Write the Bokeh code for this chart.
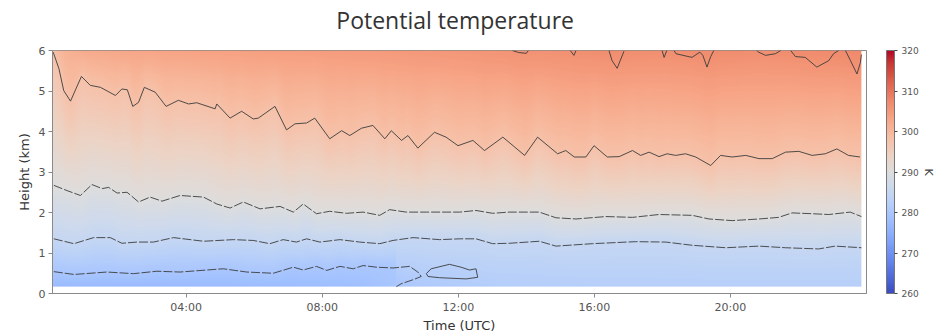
import numpy as np
from bokeh.plotting import figure
from bokeh.layouts import column
from bokeh.models import Range1d, LinearColorMapper, ColorBar, FixedTicker, Title
from bokeh.core.properties import value
from bokeh.embed import file_html
from bokeh.resources import INLINE

# ---------------- data ----------------
title_text = "Potential temperature"
# axis ticks
time_ticks = [4, 8, 12, 16, 20]
time_tick_labels = ["04:00", "08:00", "12:00", "16:00", "20:00"]
height_ticks = [0, 1, 2, 3, 4, 5, 6]
cbar_ticks = [260, 270, 280, 290, 300, 310, 320]

# extent of the data field (hours UTC, km)
t_start, t_end = 0.07, 23.85
z_bottom, z_top = 0.17, 6.0

# contour levels (K)
lev_e, lev_d, lev_c, lev_a = 280.0, 285.0, 290.0, 298.0

# contour A (highest continuous isentrope)
a_t = [0.09, 0.26, 0.40, 0.60, 0.92, 1.18, 1.48, 1.92, 2.11, 2.27, 2.43, 2.60, 2.77, 3.09, 3.41,
       3.77, 4.07, 4.31, 4.85, 4.90, 5.29, 5.63, 5.97, 6.12, 6.61, 6.95, 7.20, 7.54, 7.78, 8.22,
       8.57, 8.81, 9.15, 9.49, 9.84, 10.03, 10.33, 10.52, 10.81, 11.30, 11.64, 11.99, 12.43, 12.77,
       13.31, 13.95, 14.33, 14.92, 15.16, 15.41, 15.75, 15.99, 16.38, 16.73, 17.12, 17.36, 17.61,
       17.90, 18.14, 18.39, 18.68, 18.98, 19.42, 19.71, 20.05, 20.45, 20.84, 21.23, 21.62, 22.01,
       22.40, 22.79, 23.13, 23.47, 23.81]
a_z = [5.96, 5.55, 5.01, 4.75, 5.36, 5.14, 5.09, 4.89, 5.05, 5.03, 4.62, 4.72, 5.09, 4.97, 4.62,
       4.77, 4.68, 4.71, 4.56, 4.68, 4.33, 4.50, 4.31, 4.33, 4.62, 4.04, 4.19, 4.21, 4.33, 3.82,
       4.02, 3.90, 4.08, 4.15, 3.82, 4.02, 3.78, 3.90, 3.59, 3.98, 3.86, 3.65, 3.78, 3.53,
       3.86, 3.41, 3.86, 3.45, 3.53, 3.37, 3.37, 3.65, 3.37, 3.38, 3.53, 3.41, 3.49,
       3.38, 3.45, 3.41, 3.45, 3.37, 3.16, 3.41, 3.37, 3.41, 3.33, 3.33, 3.49, 3.51,
       3.41, 3.45, 3.57, 3.41, 3.37]

# contour B pieces touching the top of the domain
b_t = [[13.59, 13.77, 14.00, 14.06],
       [15.29, 15.40, 15.46],
       [16.43, 16.52, 16.67, 16.76, 16.87],
       [17.99, 18.05, 18.13],
       [18.34, 18.40, 18.87, 19.10, 19.19, 19.31, 19.42, 19.51],
       [20.77, 20.83, 21.03, 21.32, 21.48],
       [21.77, 21.91, 22.20, 22.54, 22.89, 23.03, 23.18],
       [23.38, 23.53, 23.72, 23.82, 23.85]]
b_z = [[6.00, 5.95, 5.93, 6.00],
       [6.00, 5.88, 6.00],
       [6.00, 5.75, 5.56, 5.75, 5.98],
       [6.00, 5.83, 6.00],
       [6.00, 5.92, 5.83, 5.96, 5.88, 5.59, 5.85, 6.00],
       [6.00, 5.96, 5.88, 5.92, 6.00],
       [6.00, 5.85, 5.83, 5.59, 5.75, 5.92, 6.00],
       [6.00, 5.75, 5.42, 5.70, 5.90]]

# contour C (~2 km)
c_t = [0.11, 0.50, 0.89, 1.23, 1.53, 1.72, 1.97, 2.26, 2.60, 2.94, 3.29, 3.82, 4.51, 4.90, 5.29,
       5.68, 6.17, 6.76, 7.15, 7.44, 7.83, 8.22, 8.71, 9.20, 9.69, 9.98, 10.47, 11.06, 11.64,
       12.04, 12.52, 13.01, 13.50, 14.38, 14.87, 15.46, 16.34, 17.12, 17.90, 18.88, 19.37, 20.05,
       20.84, 21.42, 21.81, 22.40, 22.89, 23.52, 23.85]
c_z = [2.67, 2.54, 2.42, 2.69, 2.59, 2.62, 2.48, 2.50, 2.26, 2.38, 2.28, 2.42, 2.38, 2.21, 2.11,
       2.26, 2.09, 2.15, 2.01, 2.21, 1.97, 2.03, 1.98, 2.01, 1.93, 2.07, 2.01, 2.01, 2.01,
       2.01, 2.05, 1.98, 2.01, 2.01, 1.87, 1.84, 1.90, 1.88, 1.95, 1.93, 1.84, 1.80,
       1.84, 1.88, 1.99, 1.97, 1.95, 2.01, 1.90]

# contour D (~1.3 km)
d_t = [0.11, 0.70, 1.28, 1.77, 2.11, 2.55, 3.04, 3.63, 4.51, 5.39, 5.97, 6.46, 6.85, 7.24, 7.54,
       7.93, 8.52, 9.10, 9.69, 10.08, 10.67, 11.45, 12.04, 12.52, 13.01, 13.50, 14.38, 14.87,
       15.94, 17.21, 18.10, 18.88, 19.86, 20.84, 21.62, 22.59, 23.08, 23.85]
d_z = [1.35, 1.23, 1.38, 1.38, 1.24, 1.27, 1.27, 1.38, 1.29, 1.33, 1.31, 1.23, 1.33, 1.27, 1.35,
       1.27, 1.33, 1.27, 1.23, 1.31, 1.38, 1.33, 1.35, 1.35, 1.23, 1.24, 1.29, 1.17,
       1.23, 1.28, 1.27, 1.19, 1.13, 1.17, 1.13, 1.10, 1.17, 1.13]

# contour E (~0.5 km), open branch that turns down to the ground
e_t = [0.11, 0.70, 1.67, 2.45, 3.14, 3.82, 4.61, 5.09, 5.78, 6.56, 7.15, 7.44, 7.83, 8.13, 8.52,
       8.91, 9.20, 9.59, 10.08, 10.57, 10.81, 10.91, 10.67, 10.32, 10.18]
e_z = [0.54, 0.47, 0.53, 0.49, 0.55, 0.53, 0.58, 0.61, 0.53, 0.50, 0.65, 0.58, 0.67, 0.57, 0.67,
       0.61, 0.69, 0.65, 0.63, 0.67, 0.53, 0.42, 0.34, 0.24, 0.17]
# closed cold pocket near noon
loop_t = [11.06, 11.20, 11.74, 12.08, 12.33, 12.52, 12.57, 12.23, 11.45, 11.11, 11.06]
loop_z = [0.49, 0.61, 0.72, 0.65, 0.58, 0.61, 0.40, 0.36, 0.39, 0.42, 0.49]

# potential temperature at the lowest and highest levels
bot_t = [0.07, 3.0, 6.0, 9.0, 9.8, 10.2, 10.8, 12.0, 13.0, 16.0, 20.0, 23.85]
bot_v = [277.4, 277.3, 277.6, 278.2, 279.2, 280.0, 280.8, 281.3, 281.8, 282.2, 282.3, 282.4]
top_t = [0.07, 0.4, 1.0, 2.0, 4.0, 6.0, 8.0, 10.0, 12.0, 13.5, 15.0, 16.5, 18.0, 19.3, 21.0,
         22.5, 23.7, 23.85]
top_v = [298.2, 301.0, 302.2, 302.8, 303.4, 304.0, 304.4, 304.9, 305.4, 306.0, 306.3, 306.8,
         306.5, 307.0, 306.6, 307.1, 307.4, 307.2]

# ---------------- colour map (coolwarm) ----------------
cw_anchor = [(59, 76, 192), (68, 90, 204), (77, 104, 215), (87, 117, 225), (98, 130, 234),
             (108, 142, 241), (119, 154, 247), (130, 165, 251), (141, 176, 254), (152, 185, 255),
             (163, 194, 255), (174, 201, 253), (184, 208, 249), (194, 213, 244), (204, 217, 238),
             (213, 219, 230), (221, 221, 221), (229, 216, 209), (236, 211, 197), (241, 204, 185),
             (245, 196, 173), (247, 187, 160), (247, 177, 148), (247, 166, 135), (244, 154, 123),
             (241, 141, 111), (236, 127, 99), (229, 112, 88), (222, 96, 77), (213, 80, 66),
             (203, 62, 56), (192, 40, 47), (180, 4, 38)]
anc = np.array(cw_anchor, dtype=float)
pos = np.linspace(0, 1, len(anc))
fine = np.linspace(0, 1, 256)
palette = ["#%02x%02x%02x" % tuple(int(round(np.interp(f, pos, anc[:, k]))) for k in range(3))
           for f in fine]
mapper = LinearColorMapper(palette=palette, low=260, high=320)

# ---------------- background field from the isentropes ----------------
tg = np.linspace(t_start, t_end, 420)
zg = np.linspace(z_bottom, z_top, 240)
field = np.empty((len(zg), len(tg)))
for j, t in enumerate(tg):
    zs = [z_bottom]
    vs = [np.interp(t, bot_t, bot_v)]
    if t < 10.15:
        zs.append(np.interp(t, e_t[:20], e_z[:20])); vs.append(lev_e)
    zs += [np.interp(t, d_t, d_z), np.interp(t, c_t, c_z), np.interp(t, a_t, a_z), z_top]
    vs += [lev_d, lev_c, lev_a, np.interp(t, top_t, top_v)]
    field[:, j] = np.interp(zg, zs, vs)

# ---------------- title strip ----------------
pt = figure(width=936, height=40, x_range=Range1d(0, 936), y_range=Range1d(0, 40),
            output_backend="svg", toolbar_location=None, x_axis_type=None, y_axis_type=None,
            min_border=0)
pt.outline_line_color = None
pt.grid.visible = False
pt.title.visible = False
pt.text(x=[463], y=[21], text=[title_text], text_align="center", text_baseline="middle",
        text_font=value("Open Sans"), text_font_size="23px", text_color="#333333")

# ---------------- main figure ----------------
p = figure(width=936, height=295, x_range=Range1d(0.07, 24.0), y_range=Range1d(0, 6),
           output_backend="svg", toolbar_location=None,
           min_border_left=52, min_border_right=68, min_border_top=10, min_border_bottom=42)
p.title.visible = False
p.background_fill_color = "white"
p.border_fill_color = "white"
p.outline_line_color = "#8a8a8a"
p.grid.visible = False

p.image(image=[field], x=t_start, y=z_bottom, dw=t_end - t_start, dh=z_top - z_bottom,
        color_mapper=mapper)

lc = "#3c3c3c"
p.line(a_t, a_z, line_color=lc, line_width=0.9)
p.multi_line(b_t, b_z, line_color=lc, line_width=0.9)
p.line(c_t, c_z, line_color=lc, line_width=0.9, line_dash="9 2")
p.line(d_t, d_z, line_color=lc, line_width=0.9, line_dash="9 2")
p.line(e_t, e_z, line_color=lc, line_width=0.9, line_dash="9 2")
p.line(loop_t, loop_z, line_color=lc, line_width=0.9)

# axes
for ax in (p.xaxis[0], p.yaxis[0]):
    ax.axis_line_color = "#8a8a8a"
    ax.major_tick_line_color = "#8a8a8a"
    ax.major_tick_in = 0
    ax.major_tick_out = 4
    ax.minor_tick_line_color = None
    ax.major_label_text_font = "DejaVu Sans"
    ax.major_label_text_font_size = "11px"
    ax.major_label_text_color = "#555555"
    ax.axis_label_text_font = "DejaVu Sans"
    ax.axis_label_text_font_size = "13px"
    ax.axis_label_text_font_style = "normal"
    ax.axis_label_text_color = "#333333"
    ax.major_label_standoff = 3
    ax.axis_label_standoff = 4

p.xaxis[0].axis_label_standoff = 1
p.xaxis.ticker = FixedTicker(ticks=time_ticks)
p.xaxis.major_label_overrides = {h: s for h, s in zip(time_ticks, time_tick_labels)}
p.xaxis.axis_label = "Time (UTC)"
p.yaxis.ticker = FixedTicker(ticks=height_ticks)
p.yaxis.axis_label = "Height (km)"

# colour bar
cb = ColorBar(color_mapper=mapper, ticker=FixedTicker(ticks=cbar_ticks), width=8, height=243,
              padding=0, margin=0, location=(20, 0), bar_line_color="#777777",
              major_tick_line_color="#444444", major_tick_in=0, major_tick_out=3,
              major_label_text_font="DejaVu Sans", major_label_text_font_size="9px",
              major_label_text_color="#555555", label_standoff=4, background_fill_color=None,
              border_line_color=None)
p.add_layout(cb, "right")
p.add_layout(Title(text="K", align="center", text_font="DejaVu Sans", text_font_size="11px",
                   text_font_style="normal", text_color="#444444", standoff=0), "right")

layout = column(pt, p, spacing=0)
open("out.html", "w").write(file_html(layout, INLINE))
